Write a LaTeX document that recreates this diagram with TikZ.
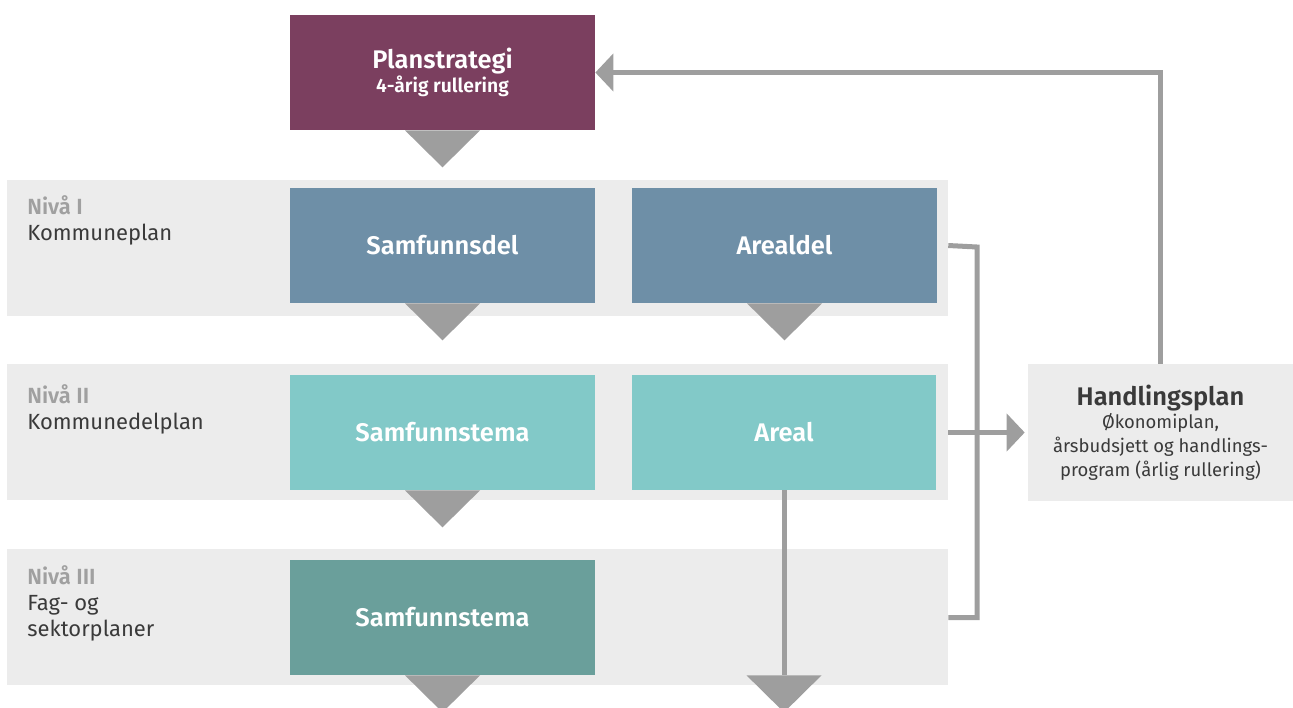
\documentclass[tikz,border=0pt]{standalone}
\usepackage{fontspec}
\setmainfont{Fira Sans}[BoldFont={Fira Sans SemiBold}]
\usetikzlibrary{arrows.meta}

\definecolor{plum}{HTML}{7B3F5F}
\definecolor{steel}{HTML}{6E8FA7}
\definecolor{aqua}{HTML}{82C9C8}
\definecolor{sea}{HTML}{6A9F9B}
\definecolor{bandgrey}{HTML}{ECECEC}
\definecolor{flowgrey}{HTML}{9E9E9E}
\definecolor{nivagrey}{HTML}{A0A0A0}
\definecolor{ink}{HTML}{3A3A3A}
\newcommand\subfont{\fontsize{10.5}{13.5}\selectfont\mdseries}

\begin{document}
\begin{tikzpicture}[x=0.02cm, y=-0.02cm,
	band/.style={fill=bandgrey, minimum width=18.82cm, minimum height=2.72cm, inner sep=0pt},
	box/.style={minimum width=6.1cm, minimum height=2.3cm, inner sep=0pt, text=white, align=center, font=\fontsize{14.5}{17}\selectfont\bfseries},
	level/.style={anchor=north west, align=left, inner sep=0pt, text=ink, font=\fontsize{12.5}{14.8}\selectfont},
	flow/.style={draw=flowgrey, line width=0.1cm},
	marker/.style={fill=flowgrey},
	tip/.style={-{Triangle[length=0.36cm, width=0.74cm]}}]
%			\draw[help lines] (0,0) grid (1293,707);
			\clip (0,0) rectangle (1293,707);
			\node[band] (niva1) at (477.5,248) {};
			\node[band] (niva2) at (477.5,432) {};
			\node[band] (niva3) at (477.5,617) {};
			\node[level] (lbl1) at (27,195) {\textcolor{nivagrey}{\bfseries Nivå I}\\Kommuneplan};
			\node[level] (lbl2) at (27,384) {\textcolor{nivagrey}{\bfseries Nivå II}\\Kommunedelplan};
			\node[level] (lbl3) at (27,565) {\textcolor{nivagrey}{\bfseries Nivå III}\\Fag- og\\sektorplaner};
			\node[box, fill=plum] (plan) at (442.5,72.5) {Planstrategi\\[-3.5pt]{\fontsize{11}{13}\selectfont 4-årig rullering}};
			\node[box, fill=steel] (samfdel) at (442.5,245.5) {Samfunnsdel};
			\node[box, fill=steel] (arealdel) at (784.5,245.5) {Arealdel};
			\node[box, fill=aqua] (samftema) at (442.5,432.5) {Samfunnstema};
			\node[box, fill=aqua] (areal) at (784,432.5) {Areal};
			\node[box, fill=sea] (fagtema) at (442.5,617.5) {Samfunnstema};
			\node[box, fill=bandgrey, text=ink, minimum width=5.3cm, minimum height=2.74cm] (handling) at (1160.5,432.5)
				{Handlingsplan\\[-3.5pt]{\subfont Økonomiplan,}\\[-3.5pt]{\subfont årsbudsjett og handlings-}\\[-3.5pt]{\subfont program (årlig rullering)}};
			\foreach \b in {plan,samfdel,arealdel,samftema,fagtema}
				\fill[marker] (\b.south) ++(-37.5,0) -- ++(75,0) -- ++(-37.5,37) -- cycle;
			\draw[flow] (areal.south) -- (areal.south |- fagtema.south);
			\fill[marker] (areal.south |- fagtema.south) ++(-37.5,0) -- ++(75,0) -- ++(-37.5,37) -- cycle;
			\coordinate (bus) at (977,247);
			\draw[flow] (niva1.east |- arealdel) -- (bus) -- (bus |- fagtema) -- (niva3.east |- fagtema);
			\draw[flow, tip, shorten >=0.06cm] (niva2.east |- areal) -- (handling.west);
			\draw[flow, tip] (handling.north) |- (plan.east);
		\end{tikzpicture}
\end{document}
